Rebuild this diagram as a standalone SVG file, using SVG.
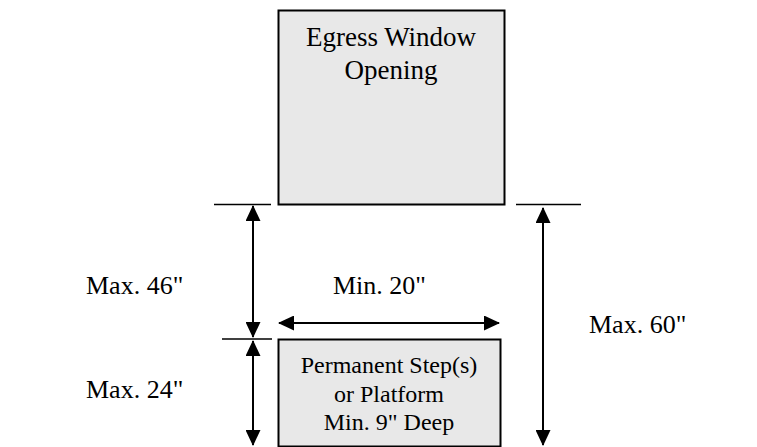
<svg xmlns="http://www.w3.org/2000/svg" width="757" height="447" viewBox="0 0 757 447">
<defs>
<style>
.box{fill:#e8e8e8;stroke:#000;stroke-width:2}
.t{font-family:"Liberation Serif","Times New Roman",serif;font-size:26px;fill:#000}
.h{font-family:"Liberation Serif","Times New Roman",serif;font-size:27px;fill:#000}
.s{font-family:"Liberation Serif","Times New Roman",serif;font-size:24px;fill:#000}
.dim{stroke:#000;stroke-width:2;fill:none;marker-start:url(#ah);marker-end:url(#ah)}
.tick{stroke:#000;stroke-width:1.6}
</style>
<marker id="ah" markerUnits="userSpaceOnUse" markerWidth="16" markerHeight="15" refX="15" refY="7.5" orient="auto-start-reverse">
<path d="M0,0 L16,7.5 L0,15 z" fill="#000"/>
</marker>
</defs>
<rect width="757" height="447" fill="#fff"/>
<g id="window">
<rect class="box" x="278.5" y="10.5" width="226" height="194"/>
<text class="h" x="391" y="46" text-anchor="middle">Egress Window</text>
<text class="h" x="391" y="79" text-anchor="middle">Opening</text>
</g>
<g id="step">
<rect class="box" x="278.5" y="339.5" width="222" height="107"/>
<text class="s" x="389" y="373" text-anchor="middle">Permanent Step(s)</text>
<text class="s" x="389" y="402" text-anchor="middle">or Platform</text>
<text class="s" x="389" y="430" text-anchor="middle">Min. 9" Deep</text>
</g>
<g id="connectors">
<line class="tick" x1="214" y1="204.5" x2="271" y2="204.5"/>
<line class="tick" x1="516" y1="204.5" x2="581" y2="204.5"/>
<line class="tick" x1="222" y1="339" x2="272" y2="339"/>
<line class="dim" x1="253" y1="206" x2="253" y2="337"/>
<line class="dim" x1="253" y1="341" x2="253" y2="445"/>
<line class="dim" x1="543" y1="208" x2="543" y2="445"/>
<line class="dim" x1="279" y1="323" x2="499" y2="323"/>
</g>
<g id="labels">
<text class="t" x="86" y="294">Max. 46"</text>
<text class="t" x="86" y="398">Max. 24"</text>
<text class="t" x="333" y="294">Min. 20"</text>
<text class="t" x="589" y="333">Max. 60"</text>
</g>
</svg>
